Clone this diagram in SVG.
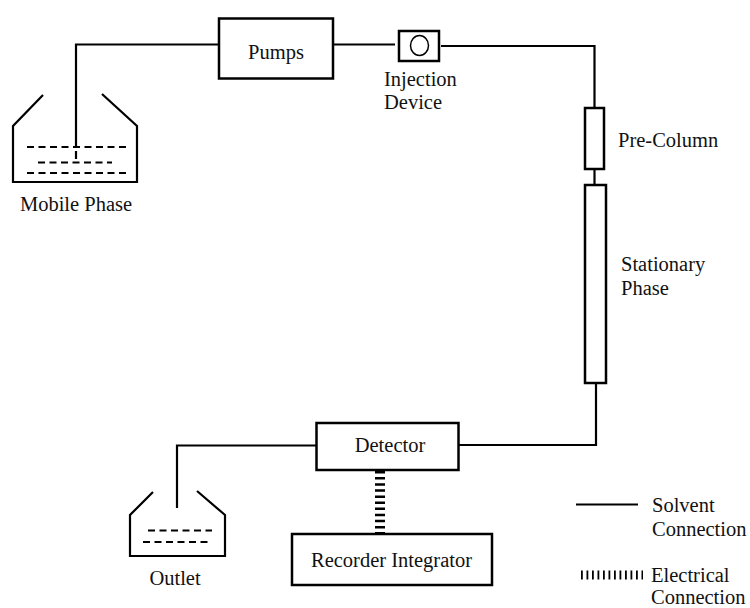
<svg xmlns="http://www.w3.org/2000/svg" width="750" height="608" viewBox="0 0 750 608">
<style>
.n{fill:#fff;stroke:#000;stroke-width:2.5}
.o{fill:none;stroke:#000;stroke-width:2.2}
.d{fill:none;stroke:#000;stroke-width:2;stroke-dasharray:7 4.500}
.e{fill:none;stroke:#000;stroke-width:10;stroke-dasharray:2.5 3.6}
text{font-family:"Liberation Serif","Times New Roman",serif;font-size:20.500px;fill:#111}
</style>
<rect width="750" height="608" fill="#fff"/>
<g id="connectors">
<path class="o" d="M76 148V44.500H219"/>
<path class="o" d="M333 44.500H395"/>
<path class="o" d="M441 46H594.500V108"/>
<path class="o" d="M594.500 169V185"/>
<path class="o" d="M596 383V445H459"/>
<path class="o" d="M316 445.500H177V508"/>
<path class="e" d="M380 471V533"/>
</g>
<g id="mobile-phase">
<path class="o" d="M43 95L13 126V182H137V126L102 94"/>
<path class="d" d="M27 147H126M38 162.500H112M27 173H130"/>
<path class="o" d="M76 151V159"/>
<text x="76" y="211" text-anchor="middle">Mobile Phase</text>
</g>
<g id="pumps">
<rect class="n" x="219" y="18.500" width="114" height="60"/>
<text x="276" y="59" text-anchor="middle">Pumps</text>
</g>
<g id="injection-device">
<rect class="n" x="399" y="31" width="40" height="30"/>
<ellipse cx="419.500" cy="45.500" rx="9" ry="10" fill="none" stroke="#000" stroke-width="1.500"/>
<text x="384" y="86">Injection</text>
<text x="384" y="109">Device</text>
</g>
<g id="pre-column">
<rect class="n" x="585" y="108" width="19" height="61"/>
<text x="618" y="147">Pre-Column</text>
</g>
<g id="stationary-phase">
<rect class="n" x="585" y="185" width="21" height="198"/>
<text x="621" y="271">Stationary</text>
<text x="621" y="295">Phase</text>
</g>
<g id="detector">
<rect class="n" x="316.500" y="423" width="142" height="47"/>
<text x="390" y="452" text-anchor="middle">Detector</text>
</g>
<g id="recorder-integrator">
<rect class="n" x="292" y="534" width="200" height="51"/>
<text x="391.500" y="567" text-anchor="middle">Recorder Integrator</text>
</g>
<g id="outlet">
<path class="o" d="M153 492L130 515V556H225V515L197 491"/>
<path class="d" d="M148 530.500H212M143 542H208"/>
<text x="175" y="585" text-anchor="middle">Outlet</text>
</g>
<g id="legend">
<path class="o" d="M576 504.500H638"/>
<text x="652" y="512">Solvent</text>
<text x="652" y="536">Connection</text>
<path fill="none" stroke="#000" stroke-width="9" stroke-dasharray="1.800 3.700" d="M581 575H643"/>
<text x="651" y="581.500">Electrical</text>
<text x="651" y="603.500">Connection</text>
</g>
</svg>
